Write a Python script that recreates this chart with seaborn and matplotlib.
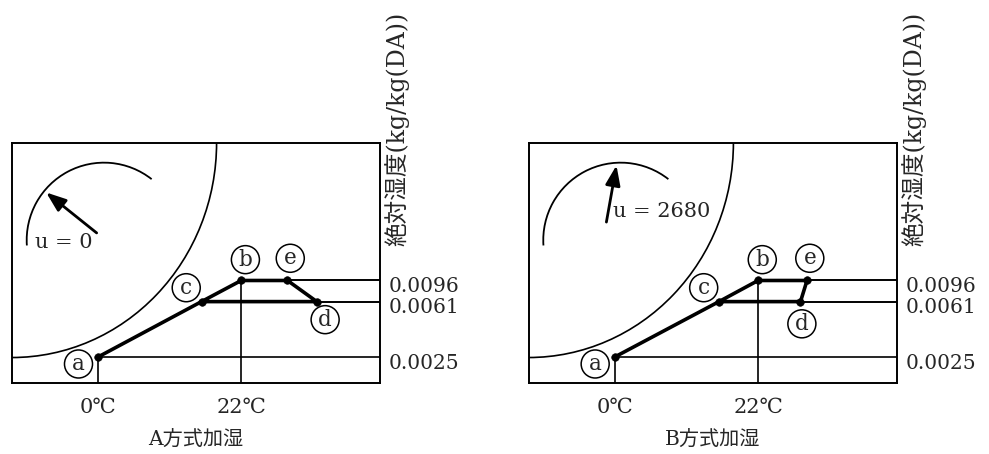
import numpy as np
import matplotlib
matplotlib.use('Agg')
import matplotlib.pyplot as plt
from matplotlib.patches import Arc
from matplotlib.transforms import ScaledTranslation
import seaborn as sns

# 絶対湿度レベル (kg/kg(DA))
levels = [0.0025, 0.0061, 0.0096]
level_labels = ['0.0025', '0.0061', '0.0096']
temp_ticks = [0, 22]
temp_labels = ['0℃', '22℃']

# 状態点 a, c, b, e, d
point_names = ['a', 'c', 'b', 'e', 'd']
temp_A = [0, 15.9, 22, 29.1, 33.6]
temp_B = [0, 16.0, 22, 29.5, 28.5]
hum_pts = [0.0025, 0.0061, 0.0096, 0.0096, 0.0061]

titles = ['A方式加湿', 'B方式加湿']
u_labels = ['u = 0', 'u = 2680']
ylabel = '絶対湿度(kg/kg(DA))'

sns.set_theme(style='white')
plt.rcParams['font.family'] = ['DejaVu Serif', 'Noto Sans CJK JP']
plt.rcParams['font.size'] = 14.5

# 模式図なので縦軸は区分線形のスケール
hum_anchor = [0.0, 0.0025, 0.0061, 0.0096, 0.02]
pos_anchor = [0.0, 0.107, 0.338, 0.426, 1.0]
fwd = lambda v: np.interp(v, hum_anchor, pos_anchor)
inv = lambda p: np.interp(p, pos_anchor, hum_anchor)

fig = plt.figure(figsize=(9.89, 4.54), dpi=100)
axes = [fig.add_axes([0.0121, 0.157, 0.3721, 0.5286]),
        fig.add_axes([0.5344, 0.157, 0.3726, 0.5286])]

xlim = (-13.2, 43.3)
ylim = (0.0, 0.02)

# 文字ラベルの位置ずらし (pt)
offsets = {'a': (-14, -5), 'c': (-11, 10), 'b': (3, 15), 'e': (2, 16), 'd': (6, -13)}
arrows = [((0.236, 0.617), (0.087, 0.80)), ((0.210, 0.658), (0.240, 0.917))]
u_pos = [(0.062, 0.583), (0.229, 0.712)]

for i, ax in enumerate(axes):
    temps = temp_A if i == 0 else temp_B
    ax.set_yscale('function', functions=(fwd, inv))
    ax.set_xlim(*xlim)
    ax.set_ylim(*ylim)

    # 補助線
    for t, h in zip(temps, hum_pts):
        ax.hlines(h, t, xlim[1], color='black', lw=1.2)
    ax.vlines(temp_ticks[0], ylim[0], hum_pts[0], color='black', lw=1.2)
    ax.vlines(temp_ticks[1], ylim[0], hum_pts[2], color='black', lw=1.2)

    # 状態変化 a→c→b→e→d→c
    order = [0, 1, 2, 3, 4, 1]
    sns.lineplot(x=[temps[k] for k in order], y=[hum_pts[k] for k in order],
                 sort=False, estimator=None, color='black', lw=2.6, ax=ax)
    sns.scatterplot(x=temps, y=hum_pts, color='black', s=30, ax=ax, zorder=5,
                    edgecolor='black')

    for name, t, h in zip(point_names, temps, hum_pts):
        dx, dy = offsets[name]
        if i == 1 and name == 'd':
            dx, dy = (1, -16)
        ax.annotate(name, (t, h), xytext=(dx, dy), textcoords='offset points',
                    ha='center', va='center', fontsize=15.5,
                    bbox=dict(boxstyle='circle,pad=0.14', fc='white', ec='black', lw=1.1))

    # 飽和曲線と熱水分比の分度器
    ax.add_patch(Arc((0, 1), 2 * 0.556, 2 * 0.895, theta1=270, theta2=360,
                     transform=ax.transAxes, color='black', lw=1.2))
    ax.add_patch(Arc((0.25, 0.594), 2 * 0.21, 2 * 0.323, theta1=63, theta2=186,
                     transform=ax.transAxes, color='black', lw=1.3))
    tail, tip = arrows[i]
    ax.annotate('', xy=tip, xytext=tail, xycoords='axes fraction',
                arrowprops=dict(arrowstyle='-|>,head_length=0.8,head_width=0.3',
                                lw=2, color='black', mutation_scale=15))
    ax.text(*u_pos[i], u_labels[i], transform=ax.transAxes, ha='left', va='center',
            fontsize=15)

    ax.yaxis.tick_right()
    ax.set_yticks(levels)
    ax.set_yticklabels(level_labels)
    ax.yaxis.set_minor_locator(matplotlib.ticker.NullLocator())
    ax.set_xticks(temp_ticks)
    ax.set_xticklabels(temp_labels)
    ax.tick_params(axis='y', length=0, pad=6, labelsize=14.5)
    ax.tick_params(axis='x', length=0, pad=11, labelsize=15)
    shift = ScaledTranslation(0, -3 / 72, fig.dpi_scale_trans)
    for lab in ax.get_yticklabels():
        lab.set_transform(lab.get_transform() + shift)
    ax.set_xlabel(titles[i], labelpad=10, fontsize=14.5)
    ax.set_ylabel('')
    ax.text(1.045, 0.57, ylabel, transform=ax.transAxes, rotation=90,
            ha='center', va='bottom', fontsize=17)
    for sp in ax.spines.values():
        sp.set_color('black')
        sp.set_linewidth(1.4)
        sp.set_visible(True)
    ax.grid(False)

fig.savefig('out.png', dpi=100)
